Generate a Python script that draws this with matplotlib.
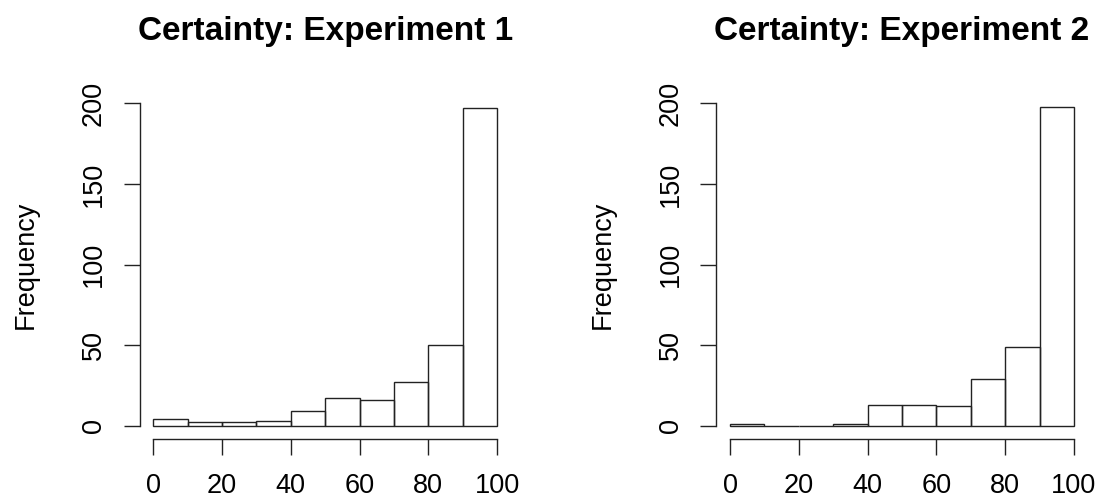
import numpy as np
import matplotlib
matplotlib.use("Agg")
import matplotlib.pyplot as plt

plt.rcParams["font.family"] = ["Liberation Sans", "DejaVu Sans"]

# histogram counts per 10-point certainty bin
bin_edges = [0, 10, 20, 30, 40, 50, 60, 70, 80, 90, 100]
exp1_counts = [4, 2, 2, 3, 9, 17, 16, 27, 50, 197]
exp2_counts = [1, 0, 0, 1, 13, 13, 12, 29, 49, 198]
titles = ["Certainty: Experiment 1", "Certainty: Experiment 2"]
x_ticks = [0, 20, 40, 60, 80, 100]
y_ticks = [0, 50, 100, 150, 200]

fig = plt.figure(figsize=(10.97, 5.01), dpi=100)
W, H = 1097, 501


def r_hist(left_px, counts, title):
    # plot region in pixels, then converted to figure fractions
    top, bottom, width = 90.4, 438.6, 371.4
    ax = fig.add_axes([left_px / W, (H - bottom) / H, width / W, (bottom - top) / H])
    edges = np.array(bin_edges)
    ax.bar(edges[:-1], counts, width=np.diff(edges), align="edge",
           fill=False, edgecolor="#222222", linewidth=1.0)
    ax.set_xlim(-4, 104)
    ax.set_ylim(-8, 208)
    for s in ["top", "right"]:
        ax.spines[s].set_visible(False)
    ax.spines["left"].set_bounds(0, 200)
    ax.spines["bottom"].set_bounds(0, 100)
    for s in ["left", "bottom"]:
        ax.spines[s].set_linewidth(1.0)
        ax.spines[s].set_color("#222222")
    ax.set_xticks(x_ticks)
    ax.set_yticks(y_ticks)
    ax.tick_params(axis="both", direction="out", length=11.5, width=1.0,
                   color="#222222", labelsize=19.5)
    ax.tick_params(axis="x", pad=13)
    ax.tick_params(axis="y", pad=12)
    for lab in ax.get_yticklabels():
        lab.set_rotation(90)
        lab.set_va("center")
    ax.set_title(title, fontsize=24, fontweight="bold", pad=36)
    ax.text(-0.307, 0.5, "Frequency", transform=ax.transAxes, rotation=90,
            ha="center", va="center", fontsize=19.5)
    return ax


r_hist(139.5, exp1_counts, titles[0])
r_hist(716.3, exp2_counts, titles[1])

fig.savefig("out.png", dpi=100, facecolor="white")
